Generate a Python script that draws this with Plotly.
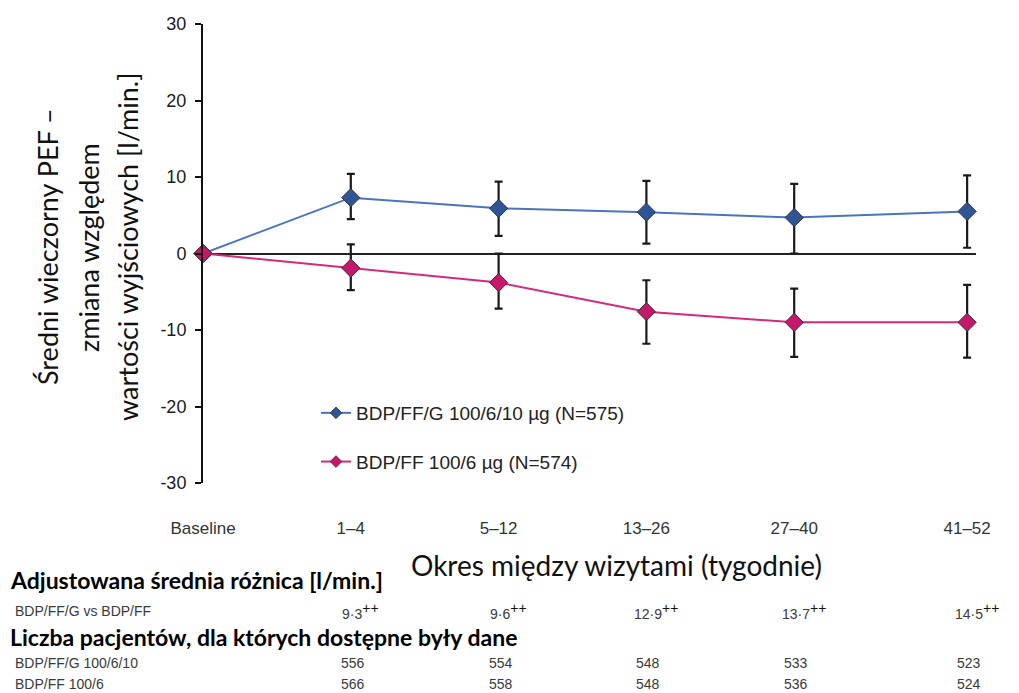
import plotly.graph_objects as go

# Visit periods (weeks) and their positions on the x axis
periods = ["Baseline", "1–4", "5–12", "13–26", "27–40", "41–52"]
period_pos = [0, 1, 2, 3, 4, 5.17]

# Mean change from baseline in evening PEF [l/min] with 95% CI bounds
triple_name = "BDP/FF/G 100/6/10 µg (N=575)"
triple_mean = [0, 7.3, 5.9, 5.4, 4.7, 5.5]
triple_upper = [0, 10.4, 9.4, 9.5, 9.1, 10.2]
triple_lower = [0, 4.5, 2.3, 1.3, 0.0, 0.75]

dual_name = "BDP/FF 100/6 µg (N=574)"
dual_mean = [0, -1.9, -3.8, -7.6, -9.0, -9.0]
dual_upper = [0, 1.2, 0.0, -3.5, -4.6, -4.1]
dual_lower = [0, -4.8, -7.2, -11.8, -13.5, -13.6]

# Adjusted mean difference BDP/FF/G vs BDP/FF, per post-baseline period
adj_diff = ["9·3", "9·6", "12·9", "13·7", "14·5"]

# Number of patients with data available, per post-baseline period
n_triple = [556, 554, 548, 533, 523]
n_dual = [566, 558, 548, 536, 524]

y_ticks = [-30, -20, -10, 0, 10, 20, 30]
y_tick_text = ["-30", "-20", "-10", "0", "10", "20", "30"]

BLUE_LINE = "#4a74bd"
BLUE_MARK = "#2f5597"
PINK_LINE = "#d42a7c"
PINK_MARK = "#c5186a"

W, H = 1019, 693
ML, MR, MT, MB = 203, 43, 24, 210
PW = W - ML - MR
PH = H - MT - MB


def px_x(p):
    return (p - ML) / PW


def px_y(p):
    return (H - MB - p) / PH


fig = go.Figure()


def add_series(mean, upper, lower, line_c, mark_c):
    fig.add_trace(go.Scatter(
        x=period_pos, y=mean, mode="lines+markers",
        line=dict(color=line_c, width=2),
        marker=dict(symbol="diamond", size=14, color=mark_c,
                    line=dict(color="#333333", width=1)),
        error_y=dict(type="data", symmetric=False,
                     array=[u - m for u, m in zip(upper, mean)],
                     arrayminus=[m - l for m, l in zip(mean, lower)],
                     color="#1a1a1a", thickness=2.2, width=4),
        cliponaxis=False, showlegend=False, hoverinfo="skip",
    ))


add_series(triple_mean, triple_upper, triple_lower, BLUE_LINE, BLUE_MARK)
add_series(dual_mean, dual_upper, dual_lower, PINK_LINE, PINK_MARK)

# Legend entries with smaller diamonds
for name, line_c, mark_c, grp in [(triple_name, BLUE_LINE, BLUE_MARK, "a"),
                                  (dual_name, PINK_LINE, PINK_MARK, "b")]:
    fig.add_trace(go.Scatter(
        x=[None], y=[None], mode="lines+markers", name=name,
        legendgroup=grp,
        line=dict(color=line_c, width=2),
        marker=dict(symbol="diamond", size=9, color=mark_c,
                    line=dict(color="#333333", width=0.8)),
    ))

ann = []

# Y-axis title, three centred lines
for text, xc in [("Średni wieczorny PEF –", 47),
                 ("zmiana względem", 88),
                 ("wartości wyjściowych [l/min.]", 127)]:
    ann.append(dict(text=text, xref="paper", yref="paper",
                    x=px_x(xc), y=px_y(247), xanchor="center", yanchor="middle",
                    textangle=-90, showarrow=False,
                    font=dict(family="Lato", size=27, color="#111111")))

# X-axis title
ann.append(dict(text="Okres między wizytami (tygodnie)", xref="paper", yref="paper",
                x=px_x(616), y=px_y(565), xanchor="center", yanchor="middle",
                showarrow=False, font=dict(family="Lato", size=28, color="#111111")))

# Table below the chart
head_font = dict(family="Lato", size=23, color="#000000")
row_font = dict(family="Liberation Sans, Arial", size=14, color="#3a3a3a")

ann.append(dict(text="<b>Adjustowana średnia różnica [l/min.]</b>", xref="paper", yref="paper",
                x=px_x(8), y=px_y(580), xanchor="left", yanchor="middle",
                showarrow=False, font=head_font))
ann.append(dict(text="BDP/FF/G vs BDP/FF", xref="paper", yref="paper",
                x=px_x(13), y=px_y(611), xanchor="left", yanchor="middle",
                showarrow=False, font=row_font))
for xp, d in zip(period_pos[1:], adj_diff):
    ann.append(dict(text=f"{d}<sup><span style='font-size:14px;color:#111'>++</span></sup>",
                    xref="x", yref="paper",
                    x=xp, y=px_y(611), xanchor="center", yanchor="middle", xshift=10,
                    showarrow=False, font=row_font))

ann.append(dict(text="<b>Liczba pacjentów, dla których dostępne były dane</b>",
                xref="paper", yref="paper",
                x=px_x(8), y=px_y(637), xanchor="left", yanchor="middle",
                showarrow=False, font=head_font))
for label, counts, yp in [("BDP/FF/G 100/6/10", n_triple, 663),
                          ("BDP/FF 100/6", n_dual, 684)]:
    ann.append(dict(text=label, xref="paper", yref="paper",
                    x=px_x(13), y=px_y(yp), xanchor="left", yanchor="middle",
                    showarrow=False, font=row_font))
    for xp, c in zip(period_pos[1:], counts):
        ann.append(dict(text=str(c), xref="x", yref="paper",
                        x=xp, y=px_y(yp), xanchor="center", yanchor="middle", xshift=2,
                        showarrow=False, font=row_font))

fig.update_layout(
    width=W, height=H, autosize=False,
    margin=dict(l=ML, r=MR, t=MT, b=MB),
    paper_bgcolor="white", plot_bgcolor="white",
    font=dict(family="Liberation Sans, Arial", color="#1a1a1a"),
    annotations=ann,
    legend=dict(x=px_x(316), y=px_y(394), xanchor="left", yanchor="top",
                bgcolor="rgba(0,0,0,0)", traceorder="grouped", tracegroupgap=21,
                itemwidth=30,
                font=dict(family="Liberation Sans, Arial", size=19, color="#222222")),
    xaxis=dict(range=[0, 5.23], tickvals=period_pos, ticktext=periods,
               showgrid=False, zeroline=False, showline=False, ticks="",
               ticklabelstandoff=33,
               tickfont=dict(family="Liberation Sans, Arial", size=17, color="#333333")),
    yaxis=dict(range=[-30, 30], tickvals=y_ticks, ticktext=y_tick_text, showgrid=False,
               zeroline=True, zerolinecolor="#222222", zerolinewidth=2,
               showline=True, linecolor="#111111", linewidth=2,
               ticks="outside", ticklen=6, tickwidth=2, tickcolor="#111111",
               ticklabelstandoff=5,
               tickfont=dict(family="Liberation Sans, Arial", size=18, color="#1a1a1a")),
)

fig.write_html("out.html")
